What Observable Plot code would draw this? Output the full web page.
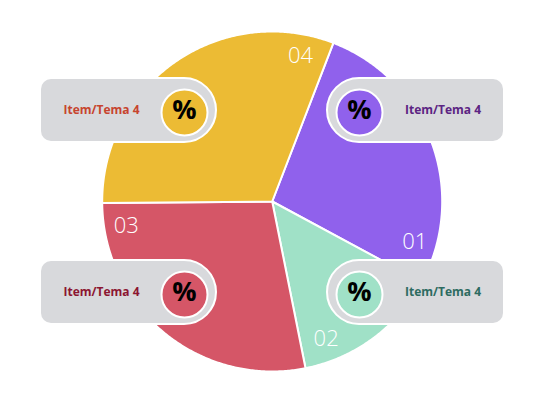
<!DOCTYPE html>
<html><head><meta charset="utf-8">
<script src="https://cdn.jsdelivr.net/npm/d3@7"></script>
<script src="https://cdn.jsdelivr.net/npm/@observablehq/plot@0.6"></script>
<style>html,body{margin:0;padding:0;background:#fff;}</style>
</head><body><div id="chart"></div>
<script>
// ---- data ----
const categories = ["01", "02", "03", "04"];
const values = [27, 14, 28, 31];
const sliceColors = ["#9061ec", "#a0e1c7", "#d55667", "#ecbb34"];
const itemLabels = ["Item/Tema 4", "Item/Tema 4", "Item/Tema 4", "Item/Tema 4"];
const itemColors = ["#5c2483", "#2d6b61", "#8c1631", "#c7442e"];
const symbolLabels = ["%", "%", "%", "%"];
const calloutSide = ["right", "right", "left", "left"];
const calloutRow = ["top", "bottom", "bottom", "top"];

// ---- layout ----
const W = 546, H = 408;
const CX = 271.7, CY = 201, R = 170, START = 21.1 * Math.PI / 180;
const labelPos = [0.87, 0.8, 0.91, 0.91]; // fraction along each slice
const LABEL_R = 148;
const BOX = {leftX1: 41, rightX2: 503, halfH: 31, rowY: {top: 110, bottom: 292},
  circleLeftX: 184, circleRightX: 359, circleR: 23, circleDy: 2};

const rows = categories.map((c, i) => ({id: c, value: values[i], color: sliceColors[i],
  item: itemLabels[i], itemColor: itemColors[i], sym: symbolLabels[i],
  side: calloutSide[i], row: calloutRow[i], lp: labelPos[i]}));

const pie = d3.pie().sort(null).value(d => d.value).startAngle(START).endAngle(START + 2 * Math.PI);
const arcs = pie(rows);
const polar = (a, r) => [CX + r * Math.sin(a), CY - r * Math.cos(a)];

const slicePolys = arcs.map(a => {
  const n = Math.max(4, Math.ceil((a.endAngle - a.startAngle) / (Math.PI / 360)));
  const pts = [{x: CX, y: CY}];
  for (let k = 0; k <= n; k++) {
    const t = a.startAngle + (a.endAngle - a.startAngle) * k / n;
    const [x, y] = polar(t, R);
    pts.push({x, y});
  }
  pts.push({x: CX, y: CY});
  return {color: a.data.color, pts};
});

const sliceLabels = arcs.map(a => {
  const t = a.startAngle + (a.endAngle - a.startAngle) * a.data.lp;
  const [x, y] = polar(t, LABEL_R);
  return {x, y, text: a.data.id};
});

const callouts = rows.map(d => {
  const yc = BOX.rowY[d.row];
  const left = d.side === "left";
  const cxC = left ? BOX.circleLeftX : BOX.circleRightX;
  return {
    ...d,
    y1: yc - BOX.halfH, y2: yc + BOX.halfH, yc,
    pillX1: left ? BOX.leftX1 : cxC - BOX.halfH,
    pillX2: left ? cxC + BOX.halfH : BOX.rightX2,
    sqX1: left ? BOX.leftX1 : cxC,
    sqX2: left ? cxC : BOX.rightX2,
    circX: cxC, circY: yc + BOX.circleDy,
    textX: left ? (BOX.leftX1 + cxC - BOX.circleR) / 2 : (cxC + BOX.circleR + BOX.rightX2) / 2
  };
});

const GRAY = "#d8d9dc";
const chart = Plot.plot({
  width: W, height: H, margin: 0,
  x: {domain: [0, W], range: [0, W], axis: null},
  y: {domain: [0, H], range: [0, H], axis: null},
  style: {fontFamily: "'Open Sans', sans-serif", background: "white"},
  marks: [
    ...slicePolys.map(s => Plot.line(s.pts, {x: "x", y: "y", fill: s.color, stroke: "white", strokeWidth: 2, strokeLinejoin: "round"})),
    Plot.text(sliceLabels, {x: "x", y: "y", text: "text", fill: "white", fontSize: 22, fontWeight: 300}),
    // outlines
    Plot.rect(callouts, {x1: "pillX1", x2: "pillX2", y1: "y1", y2: "y2", rx: BOX.halfH, fill: "white", stroke: "white", strokeWidth: 4}),
    Plot.rect(callouts, {x1: "sqX1", x2: "sqX2", y1: "y1", y2: "y2", rx: 10, fill: "white", stroke: "white", strokeWidth: 4}),
    // fills
    Plot.rect(callouts, {x1: "pillX1", x2: "pillX2", y1: "y1", y2: "y2", rx: BOX.halfH, fill: GRAY}),
    Plot.rect(callouts, {x1: "sqX1", x2: "sqX2", y1: "y1", y2: "y2", rx: 10, fill: GRAY}),
    Plot.dot(callouts, {x: "circX", y: "circY", r: BOX.circleR, fill: d => d.color, stroke: "white", strokeWidth: 2}),
    Plot.text(callouts, {x: "circX", y: "yc", text: "sym", fill: "black", fontSize: 27, fontWeight: 700}),
    Plot.text(callouts, {x: "textX", y: "yc", text: "item", fill: d => d.itemColor, fontSize: 12, fontWeight: 700})
  ]
});
document.getElementById("chart").appendChild(chart);
</script>
</body></html>
